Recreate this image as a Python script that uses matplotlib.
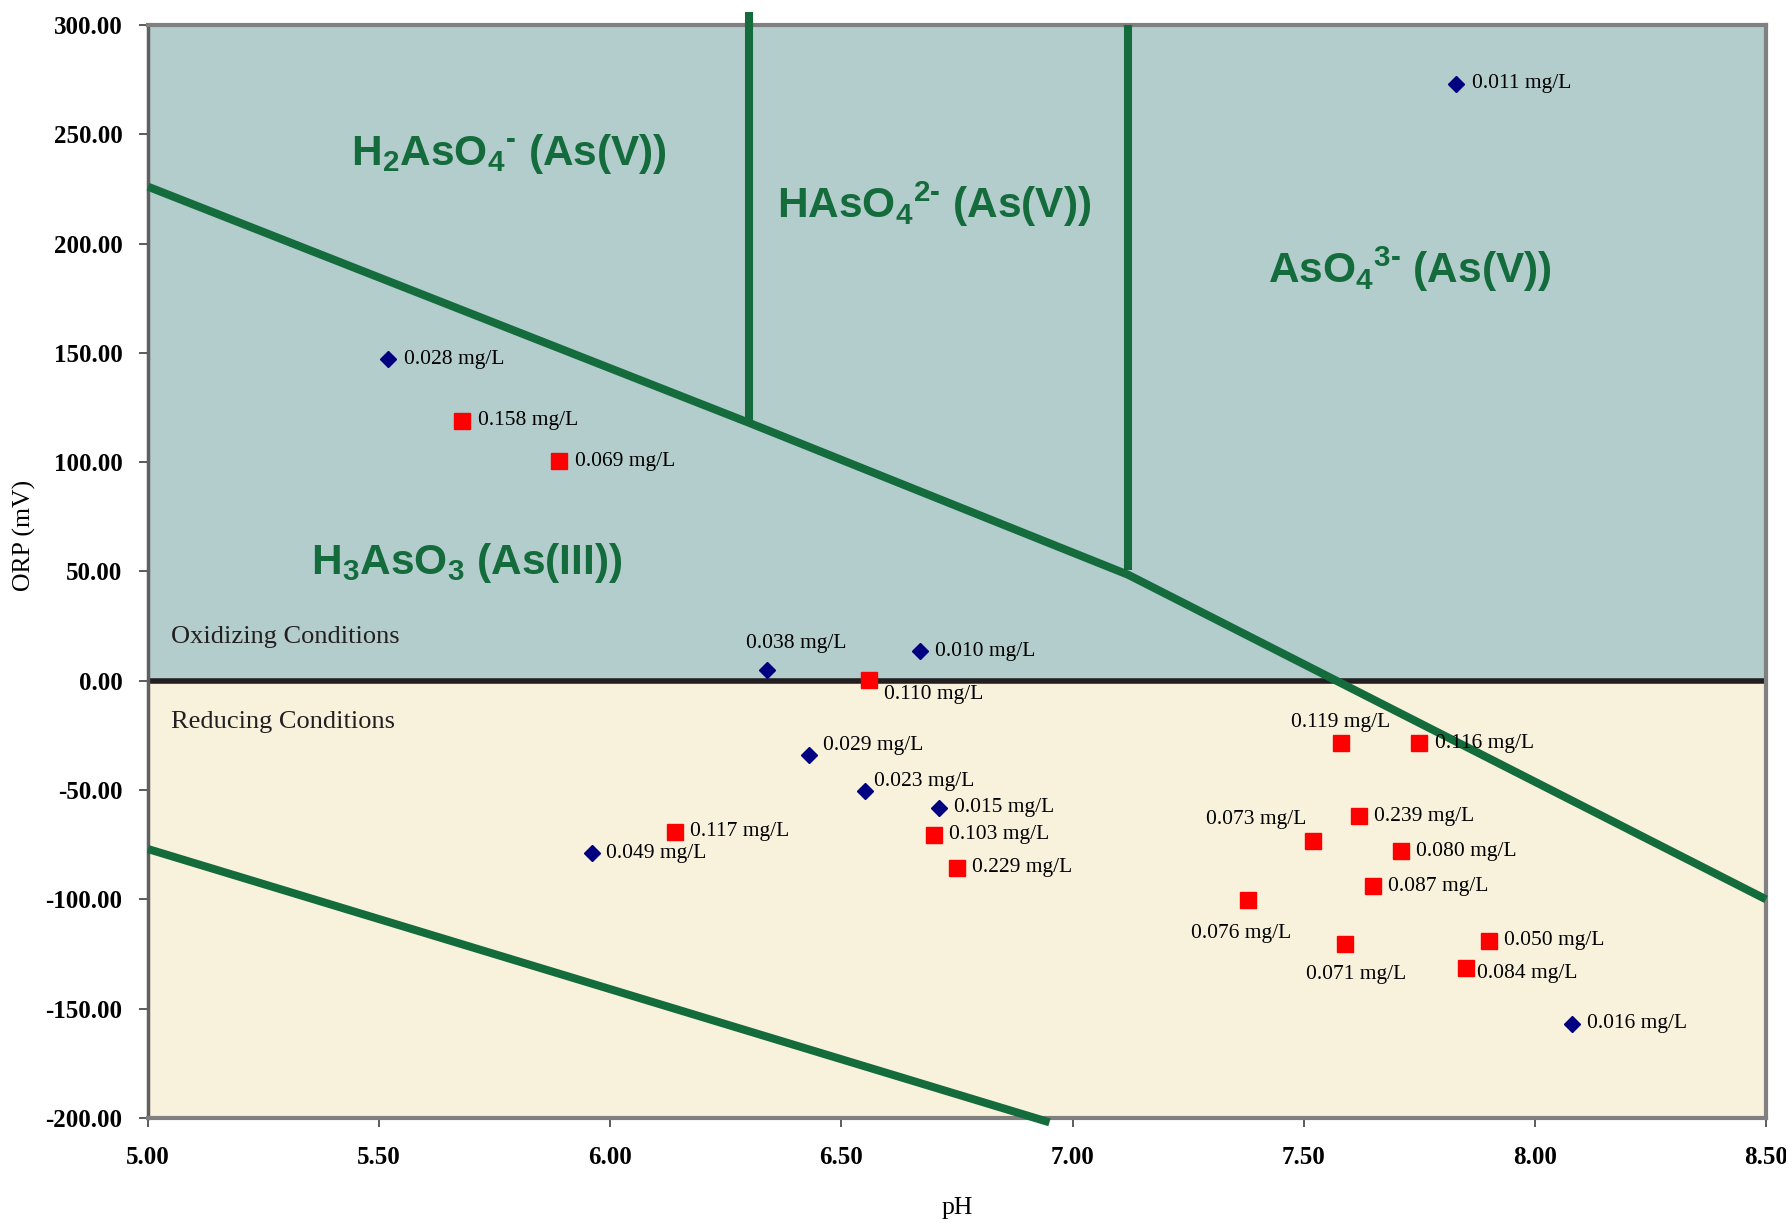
import matplotlib
matplotlib.use("Agg")
import matplotlib.pyplot as plt

plt.rcParams["mathtext.fontset"] = "custom"
plt.rcParams["mathtext.rm"] = "Liberation Sans:bold"
plt.rcParams["mathtext.it"] = "Liberation Sans:bold"
plt.rcParams["mathtext.bf"] = "Liberation Sans:bold"

# ---------------- data ----------------
# blue diamonds (series 1)
blue_ph = [7.83, 5.52, 6.34, 6.67, 6.43, 6.55, 6.71, 5.96, 8.08]
blue_orp = [273, 147, 5, 13.5, -34, -50.5, -58, -79, -157]
blue_lab = ["0.011 mg/L", "0.028 mg/L", "0.038 mg/L", "0.010 mg/L", "0.029 mg/L",
            "0.023 mg/L", "0.015 mg/L", "0.049 mg/L", "0.016 mg/L"]

# red squares (series 2)
red_ph = [5.68, 5.89, 6.56, 6.14, 6.70, 6.75, 7.58, 7.75, 7.62, 7.52, 7.71,
          7.65, 7.38, 7.59, 7.90, 7.85]
red_orp = [119, 100.5, 0.5, -69, -70.5, -85.5, -28.5, -28.5, -62, -73.5, -78,
           -94, -100.5, -120.5, -119, -131.5]
red_lab = ["0.158 mg/L", "0.069 mg/L", "0.110 mg/L", "0.117 mg/L", "0.103 mg/L",
           "0.229 mg/L", "0.119 mg/L", "0.116 mg/L", "0.239 mg/L", "0.073 mg/L",
           "0.080 mg/L", "0.087 mg/L", "0.076 mg/L", "0.071 mg/L", "0.050 mg/L",
           "0.084 mg/L"]

# boundary lines
diag_ph = [5.0, 6.30, 7.12, 8.5]
diag_orp = [226, 118, 48.5, -100]
vline1_ph = [6.30, 6.30]
vline1_orp = [306, 118]
vline2_ph = [7.12, 7.12]
vline2_orp = [300, 50.5]
low_ph = [5.0, 6.95]
low_orp = [-77, -202]

x_ticks = [5.0, 5.5, 6.0, 6.5, 7.0, 7.5, 8.0, 8.5]
y_ticks = [300, 250, 200, 150, 100, 50, 0, -50, -100, -150, -200]

# ---------------- style ----------------
GREEN = "#146b3c"
SERIF = ["Liberation Serif", "DejaVu Serif"]
SANS = ["Liberation Sans", "DejaVu Sans"]

# label offsets in points (dx, dy, ha, va)
R = (11, 0, "left", "center")
blue_off = [R, R, (21, 19, "center", "center"), R, (10, 7, "left", "center"),
            (7, 7, "left", "center"), R, (10, 0, "left", "center"), R]
red_off = [R, R, (11, -11, "left", "center"), R, R, R,
           (0, 15, "center", "center"), R, R, (-5, 16, "right", "center"), R, R,
           (-5, -24, "center", "center"), (8, -22, "center", "center"), R,
           (8, -4, "left", "center")]

fig = plt.figure(figsize=(17.86, 12.23), dpi=100)
ax = fig.add_axes([0.0829, 0.0859, 0.9059, 0.8937])
ax.set_xlim(5.0, 8.5)
ax.set_ylim(-200, 300)

# backgrounds
ax.axhspan(0, 300, color="#b3cccc", zorder=0, lw=0)
ax.axhspan(-200, 0, color="#f8f2dc", zorder=0, lw=0)
ax.axhline(0, color="#231f20", lw=4, zorder=2)

lw = 5.8
ax.plot(diag_ph, diag_orp, color=GREEN, lw=lw, solid_capstyle="butt", zorder=3, clip_on=False)
ax.plot(vline1_ph, vline1_orp, color=GREEN, lw=lw, solid_capstyle="butt", zorder=3, clip_on=False)
ax.plot(vline2_ph, vline2_orp, color=GREEN, lw=lw, solid_capstyle="butt", zorder=3, clip_on=False)
ax.plot(low_ph, low_orp, color=GREEN, lw=lw, solid_capstyle="butt", zorder=3, clip_on=False)

ax.plot(blue_ph, blue_orp, linestyle="none", marker="D", ms=8, color="#000080", zorder=5)
ax.plot(red_ph, red_orp, linestyle="none", marker="s", ms=11, color="#ff0000", zorder=5)

for x, y, t, (dx, dy, ha, va) in zip(blue_ph, blue_orp, blue_lab, blue_off):
    ax.annotate(t, (x, y), xytext=(dx, dy), textcoords="offset points", ha=ha, va=va,
                fontsize=15.5, family=SERIF, color="black", zorder=6)
for x, y, t, (dx, dy, ha, va) in zip(red_ph, red_orp, red_lab, red_off):
    ax.annotate(t, (x, y), xytext=(dx, dy), textcoords="offset points", ha=ha, va=va,
                fontsize=15.5, family=SERIF, color="black", zorder=6)

# region labels
kw = dict(fontsize=30.5, fontweight="bold", family=SANS, color=GREEN, ha="center", va="center", zorder=4)
ax.text(5.78, 241, r"H$_{2}$AsO$_{4}$$^{\text{-}}$ (As(V))", **kw)
ax.text(6.70, 218, r"HAsO$_{4}$$^{\text{2-}}$ (As(V))", **kw)
ax.text(7.73, 188, r"AsO$_{4}$$^{\text{3-}}$ (As(V))", **kw)
ax.text(5.69, 54, r"H$_{3}$AsO$_{3}$ (As(III))", **kw)

ax.text(5.05, 20, "Oxidizing Conditions", fontsize=19, family=SERIF, color="#231f20", va="center", ha="left", zorder=4)
ax.text(5.05, -19, "Reducing Conditions", fontsize=19, family=SERIF, color="#231f20", va="center", ha="left", zorder=4)

# axes styling
ax.set_xticks(x_ticks)
ax.set_xticklabels([f"{v:.2f}" for v in x_ticks])
ax.set_yticks(y_ticks)
ax.set_yticklabels([f"{v:.2f}" for v in y_ticks])
for lab in ax.get_xticklabels() + ax.get_yticklabels():
    lab.set_fontfamily(SERIF)
    lab.set_fontweight("bold")
    lab.set_fontsize(18)
ax.tick_params(axis="both", direction="out", length=6.5, width=1.2, color="#404040")
ax.tick_params(axis="y", pad=12)
ax.tick_params(axis="x", pad=14)
for side in ["top", "right", "bottom"]:
    ax.spines[side].set_color("#808080")
    ax.spines[side].set_linewidth(3)
ax.spines["left"].set_color("#606060")
ax.spines["left"].set_linewidth(2.5)

ax.set_xlabel("pH", fontsize=18.5, family=SERIF)
ax.set_ylabel("ORP (mV)", fontsize=18.5, family=SERIF)
ax.xaxis.set_label_coords(0.5, -0.072)
ax.yaxis.set_label_coords(-0.069, 0.533)

fig.savefig("out.png", dpi=100, facecolor="white")
